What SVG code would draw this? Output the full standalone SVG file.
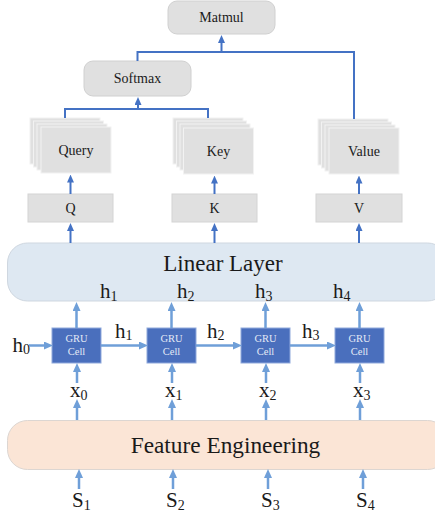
<svg xmlns="http://www.w3.org/2000/svg" width="435" height="517" viewBox="0 0 435 517">
  <defs>
    <marker id="headDark" viewBox="0 0 8 7" markerWidth="8" markerHeight="7" refX="4" refY="3.5" orient="auto" markerUnits="userSpaceOnUse">
      <path d="M0,0 L8,3.5 L0,7 z" fill="#4472c4"/>
    </marker>
    <marker id="headLight" viewBox="0 0 9 8" markerWidth="9" markerHeight="8" refX="4" refY="4" orient="auto" markerUnits="userSpaceOnUse">
      <path d="M0,0 L9,4 L0,8 z" fill="#6f9fd8"/>
    </marker>
    <!-- one sheet of a stacked projection box -->
    <rect id="sheet" width="70" height="46" fill="#e0e0e0" stroke="#f2f2f2" stroke-width="1"/>
  </defs>
  <style>
    .serif { font-family: "Liberation Serif", "Times New Roman", serif; fill: #1a1a1a; }
    .op { fill: #e0e0e0; stroke: #d0d0d0; stroke-width: 1; }
    .proj { fill: #e0e0e0; stroke: #d4d4d4; stroke-width: 1; }
    .cell { fill: #4a6fbd; stroke: #8fa9dc; stroke-width: 1; }
    .cellText { font-family: "Liberation Serif", "Times New Roman", serif; font-size: 10.5px; fill: #e4eaf6; text-anchor: middle; }
    .dark { fill: none; stroke: #4472c4; stroke-width: 2; }
    .light { fill: none; stroke: #6f9fd8; stroke-width: 2.5; }
    .lbl { font-size: 14px; text-anchor: middle; }
    .var { font-size: 21px; }
    .sub { font-size: 14px; }
  </style>

  <!-- attention operators -->
  <g id="matmul">
    <rect class="op" x="168" y="1" width="107" height="33" rx="9"/>
    <text class="serif lbl" x="221.5" y="22">Matmul</text>
  </g>
  <g id="softmax">
    <rect class="op" x="84" y="61" width="107" height="35" rx="9"/>
    <text class="serif lbl" x="137.5" y="83" font-size="14.5">Softmax</text>
  </g>

  <!-- stacked head outputs -->
  <g id="query">
    <use href="#sheet" x="30" y="118"/>
    <use href="#sheet" x="33.5" y="121"/>
    <use href="#sheet" x="37" y="124"/>
    <use href="#sheet" x="41" y="127"/>
    <text class="serif lbl" x="76" y="155">Query</text>
  </g>
  <g id="key">
    <use href="#sheet" x="173" y="118"/>
    <use href="#sheet" x="176.5" y="121"/>
    <use href="#sheet" x="180" y="124"/>
    <use href="#sheet" x="183.5" y="128"/>
    <text class="serif lbl" x="218.5" y="156">Key</text>
  </g>
  <g id="value">
    <use href="#sheet" x="318" y="119"/>
    <use href="#sheet" x="321.5" y="122"/>
    <use href="#sheet" x="325" y="125"/>
    <use href="#sheet" x="329" y="128"/>
    <text class="serif lbl" x="364" y="156">Value</text>
  </g>

  <!-- projections -->
  <g id="q">
    <rect class="proj" x="28" y="194" width="85" height="28"/>
    <text class="serif lbl" x="70.5" y="213">Q</text>
  </g>
  <g id="k">
    <rect class="proj" x="172" y="194" width="85" height="28"/>
    <text class="serif lbl" x="214.5" y="213">K</text>
  </g>
  <g id="v">
    <rect class="proj" x="316" y="194" width="86" height="28"/>
    <text class="serif lbl" x="359" y="213">V</text>
  </g>

  <!-- linear layer band -->
  <g id="linear-layer">
    <rect x="7.5" y="243" width="440" height="58" rx="20" fill="#dee8f2" stroke="#cfd7e0" stroke-width="1"/>
    <text class="serif" x="223" y="271" font-size="23" text-anchor="middle">Linear Layer</text>
    <text class="serif var" x="100" y="298">h<tspan class="sub" dy="3">1</tspan></text>
    <text class="serif var" x="177" y="298">h<tspan class="sub" dy="3">2</tspan></text>
    <text class="serif var" x="255" y="298">h<tspan class="sub" dy="3">3</tspan></text>
    <text class="serif var" x="333" y="298">h<tspan class="sub" dy="3">4</tspan></text>
  </g>

  <!-- recurrent cells -->
  <g id="gru1">
    <rect class="cell" x="52" y="328" width="49" height="35"/>
    <text class="cellText" x="76.5" y="342">GRU</text>
    <text class="cellText" x="76.5" y="355">Cell</text>
  </g>
  <g id="gru2">
    <rect class="cell" x="147" y="328" width="49" height="35"/>
    <text class="cellText" x="171.5" y="342">GRU</text>
    <text class="cellText" x="171.5" y="355">Cell</text>
  </g>
  <g id="gru3">
    <rect class="cell" x="241" y="328" width="49" height="35"/>
    <text class="cellText" x="265.5" y="342">GRU</text>
    <text class="cellText" x="265.5" y="355">Cell</text>
  </g>
  <g id="gru4">
    <rect class="cell" x="335" y="328" width="49" height="35"/>
    <text class="cellText" x="359.5" y="342">GRU</text>
    <text class="cellText" x="359.5" y="355">Cell</text>
  </g>

  <!-- hidden state and input labels -->
  <g id="state-labels">
    <text class="serif var" x="12.5" y="352">h<tspan class="sub" dy="1.5">0</tspan></text>
    <text class="serif var" x="115" y="338">h<tspan class="sub" dy="2">1</tspan></text>
    <text class="serif var" x="207" y="338">h<tspan class="sub" dy="2">2</tspan></text>
    <text class="serif var" x="302" y="338">h<tspan class="sub" dy="2">3</tspan></text>
  </g>
  <g id="input-labels">
    <text class="serif var" x="70" y="397">x<tspan class="sub" dy="3">0</tspan></text>
    <text class="serif var" x="165" y="397">x<tspan class="sub" dy="3">1</tspan></text>
    <text class="serif var" x="259" y="397">x<tspan class="sub" dy="3">2</tspan></text>
    <text class="serif var" x="353" y="397">x<tspan class="sub" dy="3">3</tspan></text>
  </g>

  <!-- feature engineering band -->
  <g id="feature-engineering">
    <rect x="7.5" y="420.5" width="440" height="49" rx="20" fill="#fbe5d6" stroke="#dcd6d2" stroke-width="1"/>
    <text class="serif" x="225.5" y="453" font-size="23.3" text-anchor="middle">Feature Engineering</text>
  </g>

  <g id="sequence-labels">
    <text class="serif var" x="72" y="507">S<tspan class="sub" dy="3">1</tspan></text>
    <text class="serif var" x="166" y="507">S<tspan class="sub" dy="3">2</tspan></text>
    <text class="serif var" x="261" y="507">S<tspan class="sub" dy="3">3</tspan></text>
    <text class="serif var" x="356" y="507">S<tspan class="sub" dy="3">4</tspan></text>
  </g>

  <!-- connectors -->
  <g id="connectors">
    <!-- attention merge lines -->
    <polyline class="dark" points="137.5,61 137.5,52 354,52 354,119"/>
    <line class="dark" x1="221.5" y1="52" x2="221.5" y2="39" marker-end="url(#headDark)"/>
    <polyline class="dark" points="65,118 65,109 208,109 208,118"/>
    <line class="dark" x1="138" y1="109" x2="138" y2="101" marker-end="url(#headDark)"/>
    <!-- projections into stacks -->
    <line class="dark" x1="70.5" y1="194" x2="70.5" y2="178.5" marker-end="url(#headDark)"/>
    <line class="dark" x1="214.5" y1="194" x2="214.5" y2="179.5" marker-end="url(#headDark)"/>
    <line class="dark" x1="359" y1="194" x2="359" y2="179.5" marker-end="url(#headDark)"/>
    <!-- linear layer into projections -->
    <line class="dark" x1="70.5" y1="243" x2="70.5" y2="227" marker-end="url(#headDark)"/>
    <line class="dark" x1="214.5" y1="243" x2="214.5" y2="227" marker-end="url(#headDark)"/>
    <line class="dark" x1="359" y1="243" x2="359" y2="227" marker-end="url(#headDark)"/>

    <!-- cell outputs -->
    <line class="light" x1="76.5" y1="328" x2="76.5" y2="307" marker-end="url(#headLight)"/>
    <line class="light" x1="171.5" y1="328" x2="171.5" y2="307" marker-end="url(#headLight)"/>
    <line class="light" x1="265.5" y1="328" x2="265.5" y2="307" marker-end="url(#headLight)"/>
    <line class="light" x1="359.5" y1="328" x2="359.5" y2="307" marker-end="url(#headLight)"/>
    <!-- recurrent links -->
    <line class="light" x1="29" y1="345.5" x2="48" y2="345.5" marker-end="url(#headLight)"/>
    <line class="light" x1="101" y1="345.5" x2="143" y2="345.5" marker-end="url(#headLight)"/>
    <line class="light" x1="196" y1="345.5" x2="237" y2="345.5" marker-end="url(#headLight)"/>
    <line class="light" x1="290" y1="345.5" x2="331" y2="345.5" marker-end="url(#headLight)"/>
    <!-- inputs into cells -->
    <line class="light" x1="77" y1="383" x2="77" y2="368" marker-end="url(#headLight)"/>
    <line class="light" x1="172" y1="383" x2="172" y2="368" marker-end="url(#headLight)"/>
    <line class="light" x1="266" y1="383" x2="266" y2="368" marker-end="url(#headLight)"/>
    <line class="light" x1="360" y1="383" x2="360" y2="368" marker-end="url(#headLight)"/>
    <!-- features to inputs -->
    <line class="light" x1="77" y1="420" x2="77" y2="404" marker-end="url(#headLight)"/>
    <line class="light" x1="172" y1="420" x2="172" y2="404" marker-end="url(#headLight)"/>
    <line class="light" x1="266" y1="420" x2="266" y2="404" marker-end="url(#headLight)"/>
    <line class="light" x1="360" y1="420" x2="360" y2="404" marker-end="url(#headLight)"/>
    <!-- raw sequence into feature engineering -->
    <line class="light" x1="79" y1="489" x2="79" y2="474" marker-end="url(#headLight)"/>
    <line class="light" x1="173" y1="489" x2="173" y2="474" marker-end="url(#headLight)"/>
    <line class="light" x1="268" y1="489" x2="268" y2="474" marker-end="url(#headLight)"/>
    <line class="light" x1="363" y1="489" x2="363" y2="474" marker-end="url(#headLight)"/>
  </g>
</svg>
